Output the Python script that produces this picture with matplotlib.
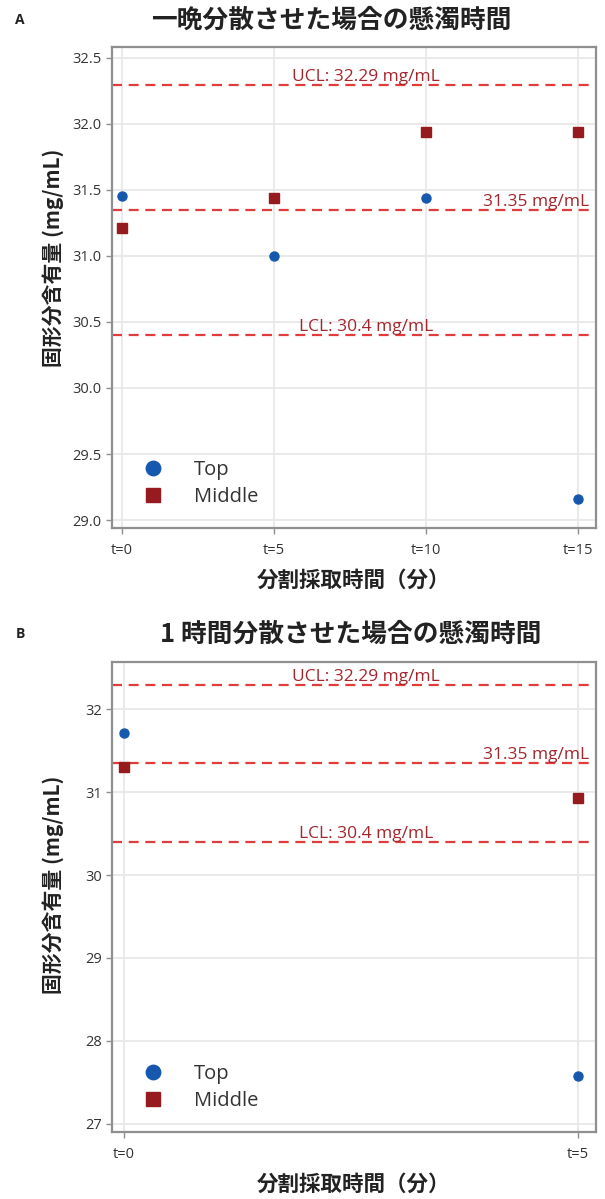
import numpy as np
import matplotlib.pyplot as plt
import matplotlib as mpl

# フォント設定
jp = ['Noto Sans CJK JP', 'DejaVu Sans']
num = ['Open Sans', 'DejaVu Sans']
mpl.rcParams.update({"font.family": num})

# データ
times_a = [0, 5, 10, 15]
labels_a = ['t=0', 't=5', 't=10', 't=15']
top_a = [31.45, 31.0, 31.44, 29.16]
middle_a = [31.21, 31.44, 31.94, 31.94]

times_b = [0, 5]
labels_b = ['t=0', 't=5']
top_b = [31.71, 27.58]
middle_b = [31.30, 30.93]

ucl = 32.29
mean = 31.35
lcl = 30.4

titles = ['一晩分散させた場合の懸濁時間', '1 時間分散させた場合の懸濁時間']
panel_tags = ['A', 'B']
ylabel = '固形分含有量 (mg/mL)'
xlabel = '分割採取時間（分）'

blue = '#1558ad'
dred = '#961b1f'
line_red = '#e23b3b'
text_red = '#a3262c'

fig = plt.figure(figsize=(6.05, 11.99), dpi=100)
W, H = 605, 1199


def panel(box, times, labels, top, middle, xlim, ylim, yticks, yfmt, title, tag, title_xy, ylab_pos):
    l, t, r, b = box
    ax = fig.add_axes([l / W, 1 - b / H, (r - l) / W, (b - t) / H])
    ax.plot(times, top, 'o', color=blue, ms=6.5, label='Top', zorder=4)
    ax.plot(times, middle, 's', color=dred, ms=6.5, label='Middle', zorder=4)
    xmid = (xlim[0] + xlim[1]) / 2 + (xlim[1] - xlim[0]) * 0.025
    for val, txt, ha, xp in [(ucl, 'UCL: %.2f mg/mL' % ucl, 'center', xmid),
                             (mean, '%.2f mg/mL' % mean, 'right', xlim[1] - (xlim[1] - xlim[0]) * 0.015),
                             (lcl, 'LCL: %.1f mg/mL' % lcl, 'center', xmid)]:
        ax.axhline(val, color=line_red, lw=1.6, ls=(0, (4.5, 3)), zorder=2)
        ax.text(xp, val, txt, ha=ha, va='bottom', color=text_red, fontsize=12.5,
                family=num, zorder=3)
    ax.set_xlim(xlim)
    ax.set_ylim(ylim)
    ax.set_xticks(times)
    ax.set_xticklabels(labels)
    ax.set_yticks(yticks)
    ax.set_yticklabels([yfmt % v for v in yticks])
    ax.grid(True, color='#e8e8e8', lw=1.3, zorder=0)
    ax.set_axisbelow(True)
    for s in ax.spines.values():
        s.set_color('#8f8f8f')
        s.set_linewidth(1.6)
    ax.tick_params(colors='#8f8f8f', labelcolor='#333333', labelsize=10.5, length=4, width=1)
    ax.tick_params(axis='x', pad=7)
    ax.set_xlabel(xlabel, family=jp, fontsize=15.5, fontweight='bold', labelpad=8, color='#222222')
    ax.set_ylabel(ylabel, family=jp, fontsize=15, fontweight='bold', color='#222222')
    ax.yaxis.set_label_coords(-0.10, ylab_pos)
    leg = ax.legend(loc='lower left', bbox_to_anchor=(0.0, 0.0), frameon=False, fontsize=14.5,
                    markerscale=1.6, handletextpad=1.0, labelspacing=0.35, borderaxespad=0.55,
                    borderpad=0.5)
    for txt in leg.get_texts():
        txt.set_color('#333333')
    fig.text(title_xy[0] / W, 1 - title_xy[1] / H, title, family=jp, fontsize=18.5,
             fontweight='bold', ha='center', va='center', color='#222222')
    fig.text(20 / W, 1 - title_xy[1] / H, tag, family=num, fontsize=10, fontweight='bold',
             ha='center', va='center', color='#222222')
    return ax


panel((112, 47, 596, 528), times_a, labels_a, top_a, middle_a, (-0.33, 15.6), (28.94, 32.58),
      [29.0, 29.5, 30.0, 30.5, 31.0, 31.5, 32.0, 32.5], '%.1f', titles[0], panel_tags[0],
      (331, 20), 0.561)
panel((112, 662, 596, 1132), times_b, labels_b, top_b, middle_b, (-0.13, 5.2), (26.9, 32.57),
      [27, 28, 29, 30, 31, 32], '%d', titles[1], panel_tags[1], (351, 634), 0.525)

plt.savefig('out.png', dpi=100)
